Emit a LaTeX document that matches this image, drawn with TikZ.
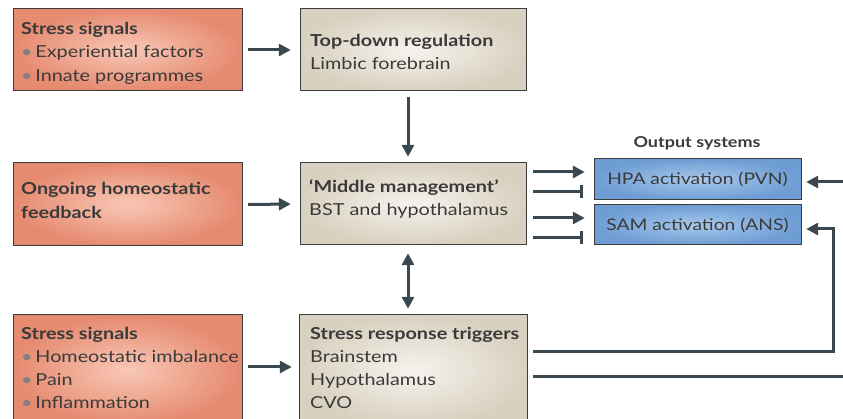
\documentclass[tikz,border=0pt]{standalone}
\usepackage{fontspec}
\setmainfont{Lato}[FakeStretch=1.2]
\usetikzlibrary{arrows.meta}
\definecolor{arr}{HTML}{3A4950}
\definecolor{txt}{HTML}{3A3A3A}
\definecolor{bord}{HTML}{3C3C3C}
\definecolor{salO}{HTML}{E68A70}
\definecolor{salI}{HTML}{F8C8B6}
\definecolor{begO}{HTML}{D9D1C0}
\definecolor{begI}{HTML}{F6F3EE}
\definecolor{bluO}{HTML}{6E9DD4}
\definecolor{bluI}{HTML}{A8C8EC}
\tikzset{
  box/.style={draw=bord, line width=1pt, inner sep=0pt},
  salbox/.style={box, shading=radial, inner color=salI, outer color=salO},
  begbox/.style={box, shading=radial, inner color=begI, outer color=begO},
  blubox/.style={box, shading=radial, inner color=bluI, outer color=bluO},
  anc/.style={inner sep=0pt},
  lbl/.style={anchor=north west, inner sep=0pt, align=left, text=txt,
    font=\fontsize{16.5}{23.5}\selectfont},
  conn/.style={draw=arr, line width=3pt, -{Triangle[length=12pt,width=12pt]}},
  dconn/.style={draw=arr, line width=3pt, {Triangle[length=12pt,width=12pt]}-{Triangle[length=12pt,width=12pt]}},
  inh/.style={draw=arr, line width=3pt, -{Bar[width=13pt,line width=2.5pt]}},
  wire/.style={draw=arr, line width=3pt},
}
\newcommand{\bt}{{\color{gray}\textbullet}\,}
\begin{document}
\begin{tikzpicture}[x=1pt,y=-1pt]
\useasboundingbox (0,0) rectangle (843,419);
% boxes
\path[salbox] (13,9) rectangle (242,91);
\path[salbox] (13,163) rectangle (242,246);
\path[salbox] (13,315) rectangle (242,425);
\path[begbox] (300,9) rectangle (526,91);
\path[begbox] (300,163) rectangle (526,245);
\path[begbox] (299,315) rectangle (527,425);
\path[blubox] (594,159) rectangle (801,200);
\path[blubox] (594,205) rectangle (801,245);
% named nodes for boxes
\node[anc, minimum width=229pt, minimum height=82pt] (A) at (127.5,50) {};
\node[anc, minimum width=226pt, minimum height=82pt] (B) at (413,50) {};
\node[anc, minimum width=229pt, minimum height=83pt] (C) at (127.5,204.5) {};
\node[anc, minimum width=226pt, minimum height=82pt] (D) at (413,204) {};
\node[anc, minimum width=229pt, minimum height=110pt] (E) at (127.5,370) {};
\node[anc, minimum width=228pt, minimum height=110pt] (F) at (413,370) {};
\node[anc, minimum width=207pt, minimum height=41pt] (H) at (697.5,179.5) {};
\node[anc, minimum width=207pt, minimum height=40pt] (S) at (697.5,225) {};
% texts
\node[lbl] (tA) at (21,22) {\textbf{Stress signals}\\\bt Experiential factors\\\bt Innate programmes};
\node[lbl] (tB) at (310,34) {\textbf{Top-down regulation}\\Limbic forebrain};
\node[lbl, font=\fontsize{16.5}{24.5}\selectfont] (tC) at (21,182) {\textbf{Ongoing homeostatic}\\\textbf{feedback}};
\node[lbl] (tD) at (309,179) {\textbf{‘Middle management’}\\BST and hypothalamus};
\node[lbl, font=\fontsize{16.5}{23}\selectfont] (tE) at (21,327) {\textbf{Stress signals}\\\bt Homeostatic imbalance\\\bt Pain\\\bt Inflammation};
\node[lbl, font=\fontsize{16.5}{23}\selectfont] (tF) at (310,327) {\textbf{Stress response triggers}\\Brainstem\\Hypothalamus\\CVO};
\node[text=txt, font=\fontsize{15}{18}\selectfont\bfseries] (out) at (697,143) {Output systems};
\node[text=txt, font=\fontsize{16}{18}\selectfont] (tH) at (H) {HPA activation (PVN)};
\node[text=txt, font=\fontsize{16}{18}\selectfont] (tS) at (S) {SAM activation (ANS)};
% connectors
\draw[conn, shorten <=6pt, shorten >=9pt] (A.east) -- (B.west);
\draw[conn, shorten <=6pt, shorten >=9pt] (C.east) -- (D.west);
\draw[conn, shorten <=6pt, shorten >=7pt] (E.east |- 0,367) -- (F.west |- 0,367);
\draw[conn, shorten <=6pt, shorten >=6pt] (B.south -| 408,0) -- (D.north -| 408,0);
\draw[dconn, shorten <=8pt, shorten >=6pt] (D.south -| 408,0) -- (F.north -| 408,0);
\draw[conn, shorten <=7pt, shorten >=9pt] (D.east |- 0,172) -- (H.west |- 0,172);
\draw[inh, shorten <=7pt, shorten >=11pt] (D.east |- 0,192) -- (H.west |- 0,192);
\draw[conn, shorten <=7pt, shorten >=9pt] (D.east |- 0,218) -- (S.west |- 0,218);
\draw[inh, shorten <=7pt, shorten >=11pt] (D.east |- 0,238) -- (S.west |- 0,238);
\coordinate (r1) at (833,352);
\coordinate (e1) at (843,182);
\coordinate (e2) at (843,376);
\draw[conn, shorten <=6pt, shorten >=5pt] (F.east |- r1) -- (r1) |- (S.east |- 0,229);
\draw[wire, shorten <=6pt] (F.east |- e2) -- (e2);
\draw[conn, shorten >=5pt] (e1) -- (H.east |- e1);
\end{tikzpicture}
\end{document}
